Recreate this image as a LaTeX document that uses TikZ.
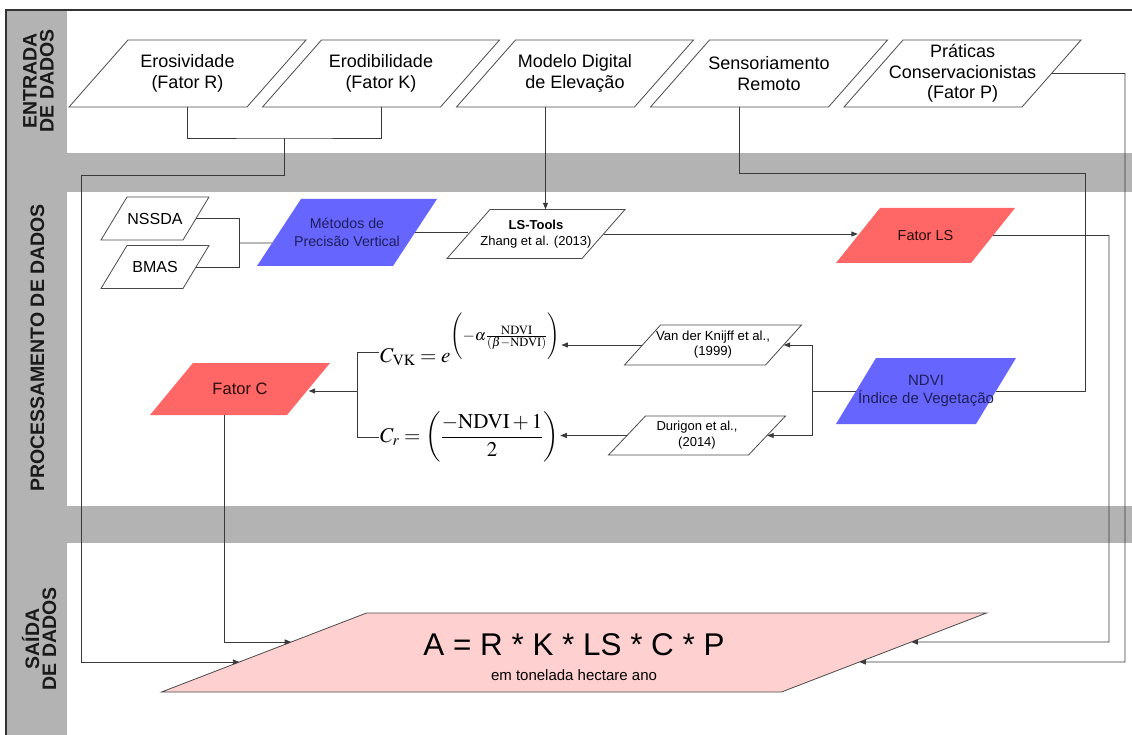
\documentclass[tikz,border=0pt]{standalone}
\usepackage{mathptmx}
\usepackage[no-math]{fontspec}
\setmainfont{Liberation Sans}
\usetikzlibrary{arrows.meta,calc}
\definecolor{bandgray}{HTML}{B3B3B3}
\definecolor{linecol}{HTML}{3A3A3A}
\definecolor{boxline}{HTML}{4A4A4A}
\definecolor{framecol}{HTML}{333333}
\definecolor{redbox}{HTML}{FF6666}
\definecolor{bluebox}{HTML}{6666FF}
\definecolor{pinkbox}{HTML}{FFD0D0}
\definecolor{navytext}{HTML}{1E1E5A}
\definecolor{redtext}{HTML}{2A0A0A}
\definecolor{labeltext}{HTML}{1A1A1A}
\newcommand\topf{\fontsize{18}{21.5}\selectfont}
% #1 name, #2 cx, #3 cy, #4 mid width, #5 height, #6 slant, #7 path style, #8 node options, #9 text
\newcommand\pbox[9]{%
  \coordinate (#1-tl) at ({#2-#4/2+#6/2},{#3-#5/2});
  \coordinate (#1-tr) at ({#2+#4/2+#6/2},{#3-#5/2});
  \coordinate (#1-br) at ({#2+#4/2-#6/2},{#3+#5/2});
  \coordinate (#1-bl) at ({#2-#4/2-#6/2},{#3+#5/2});
  \coordinate (#1-b) at ({#2-#6/2},{#3+#5/2});
  \path[#7] (#1-tl) -- (#1-tr) -- (#1-br) -- (#1-bl) -- cycle;
  \node[boxtext, minimum width=#4, minimum height=#5, #8] (#1) at (#2,#3) {#9};
}
\begin{document}
\begin{tikzpicture}[x=1pt,y=-1pt,
  conn/.style={draw=linecol, line width=0.9pt},
  arr/.style={conn, -{Triangle[length=6.5pt,width=5pt]}},
  whitepara/.style={fill=white, draw=boxline, line width=0.8pt},
  redpara/.style={fill=redbox},
  bluepara/.style={fill=bluebox},
  pinkpara/.style={fill=pinkbox, draw=boxline, line width=0.8pt},
  boxtext/.style={inner sep=0pt, align=center, text=black},
  sidelabel/.style={rotate=90, align=center, inner sep=0pt, font=\bfseries\fontsize{19.5}{17}\selectfont, text=labeltext}]
\useasboundingbox (0,0) rectangle (1132,735);
\fill[white] (0,0) rectangle (1132,735);
\fill[bandgray] (6,10) rectangle (67,735);
\fill[bandgray] (67,153) rectangle (1132,192);
\fill[bandgray] (67,506) rectangle (1132,543);
\draw[draw=framecol, line width=1.3pt] (6,735) -- (6,10) -- (1132,10);

\node[sidelabel] (lab1) at (38.5,81) {ENTRADA\\DE DADOS};
\node[sidelabel] (lab2) at (37.5,348) {PROCESSAMENTO DE DADOS};
\node[sidelabel] (lab3) at (39,639) {SAÍDA\\DE DADOS};

% input row
\pbox{eros}{187.5}{73.5}{178}{67}{59}{whitepara}{font=\topf}{Erosividade\\(Fator R)}
\pbox{erod}{381}{73.5}{178}{67}{59}{whitepara}{font=\topf}{Erodibilidade\\(Fator K)}
\pbox{mde}{575}{73.5}{178}{67}{59}{whitepara}{font=\topf}{Modelo Digital\\de Elevação}
\pbox{sens}{769}{73.5}{178}{67}{59}{whitepara}{font=\topf}{Sensoriamento\\Remoto}
\pbox{prat}{962.5}{73.5}{178}{67}{59}{whitepara}{font=\fontsize{18}{20.5}\selectfont}{Práticas\\Conservacionistas\\(Fator P)}

% processing
\pbox{nssda}{155}{218.5}{82}{43}{26}{whitepara}{font=\fontsize{16}{19}\selectfont}{NSSDA}
\pbox{bmas}{155}{267}{82}{43}{26}{whitepara}{font=\fontsize{16}{19}\selectfont}{BMAS}
\pbox{met}{347}{232.5}{136}{67}{44}{bluepara}{font=\fontsize{14.2}{18}\selectfont, text=navytext}{Métodos de\\Precisão Vertical}
\pbox{lst}{536}{234}{135}{49}{43}{whitepara}{font=\fontsize{13}{16}\selectfont}{\textbf{LS-Tools}\\Zhang et al. (2013)}
\pbox{fls}{925.5}{235.5}{135}{55}{44}{redpara}{font=\fontsize{14.5}{17}\selectfont, text=redtext}{Fator LS}
\pbox{fc}{240}{389}{137}{52}{43}{redpara}{font=\fontsize{16.5}{19}\selectfont, text=redtext}{Fator C}
\pbox{vdk}{713}{345}{141}{40}{36}{whitepara}{font=\fontsize{13.2}{15}\selectfont}{Van der Knijff et al.,\\(1999)}
\pbox{dur}{697}{435.5}{140}{39}{37}{whitepara}{font=\fontsize{13}{16}\selectfont}{Durigon et al.,\\(2014)}
\pbox{ndvi}{926}{391}{140}{66}{40}{bluepara}{font=\fontsize{15}{18}\selectfont, text=navytext}{NDVI\\Índice de Vegetação}

\node[anchor=base west, inner sep=1pt, font=\fontsize{21}{25}\selectfont] (cvk) at (379,362)
  {$C_{\mathrm{VK}} = e^{\left(-\alpha\frac{\mathrm{NDVI}}{(\beta-\mathrm{NDVI})}\vrule height 26pt depth 19pt width 0pt\right)}$};
\node[anchor=west, inner sep=1pt, font=\fontsize{21}{25}\selectfont] (cr) at (379,437)
  {$C_r = \left(\displaystyle\frac{-\mathrm{NDVI}+1}{2}\right)$};

% output
\pbox{A}{574}{652.5}{620}{79}{205}{pinkpara}{}{}
\node[inner sep=0pt, font=\fontsize{31.4}{36}\selectfont] (Aeq) at ([yshift=7.5pt]A.center) {A = R * K * LS * C * P};
\node[inner sep=0pt, font=\fontsize{15}{18}\selectfont] (Asub) at ([yshift=-22.5pt]A.center) {em tonelada hectare ano};

\coordinate (aL1) at ($(A-bl)!0.6329!(A-tl)$);
\coordinate (aL2) at ($(A-bl)!0.3797!(A-tl)$);
\coordinate (aR1) at ($(A-br)!0.6329!(A-tr)$);
\coordinate (aR2) at ($(A-br)!0.3797!(A-tr)$);

% connectors
\coordinate (j1) at (284.5,138);
\coordinate (k1) at (81,175);
\draw[conn] (eros.south) |- (j1) -| (erod.south);
\draw[arr] (j1) |- (k1) |- (aL2);
\draw[arr] (mde-b) -- (mde-b |- lst.north);
\coordinate (k2) at (1085,173);
\draw[conn] (sens-b) |- (k2) |- (ndvi.east);
\coordinate (k3) at (1125,662);
\draw[arr] (prat.east) -| (k3) -- (aR2);
\coordinate (k4) at (1109,642);
\draw[arr] (fls.east) -| (k4) -- (aR1);
\draw[arr] (lst.east) -- (lst.east -| fls.west);
\coordinate (k6) at (239,243);
\draw[conn] (nssda.east) -| (k6);
\draw[conn] (bmas.east) -| (k6);
\coordinate (mL) at ($(met-bl)!0.343!(met-tl)$);
\draw[conn] (k6) -- (mL);
\draw[conn] (met.east) -- (met.east -| lst.west);
\coordinate (k5) at (812,391);
\draw[conn] (ndvi.west) -- (k5);
\draw[arr] (k5) |- (vdk.east);
\draw[arr] (k5) |- (dur.east);
\draw[arr] (vdk.west) -- (vdk.west -| cvk.east);
\draw[arr] (dur.west) -- (dur.west -| cr.east);
\coordinate (bt) at (357,352);
\coordinate (bb) at (357,437);
\coordinate (bm) at (357,391);
\draw[conn] (bt -| cvk.west) -- (bt) -- (bb) -- (bb -| cr.west);
\draw[arr] (bm) -- (bm -| fc.east);
\draw[arr] ([xshift=6pt]fc-b) |- (aL1);
\end{tikzpicture}
\end{document}
